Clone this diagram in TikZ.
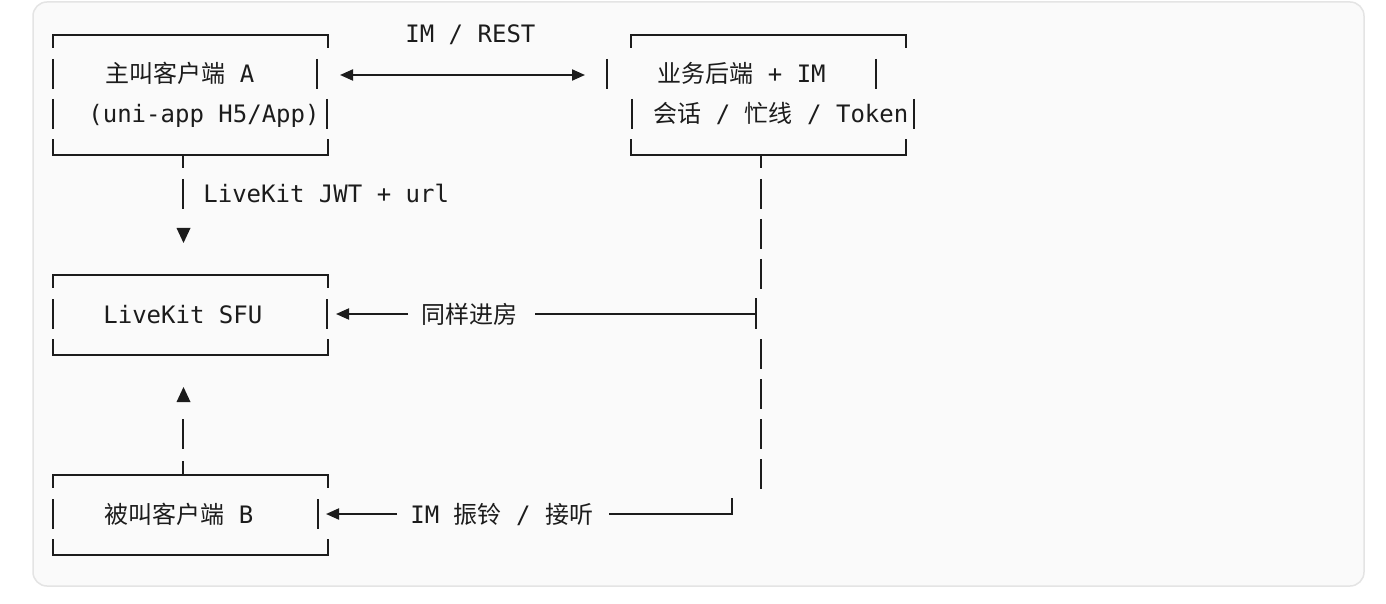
\documentclass[tikz,border=0pt]{standalone}
\usepackage{fontspec}
\setmonofont{DejaVu Sans Mono}
\newfontfamily\cjk{Noto Sans CJK SC}
\usetikzlibrary{arrows.meta}
\definecolor{ink}{HTML}{1C1C1C}
\definecolor{cardfill}{HTML}{FAFAFA}
\definecolor{cardline}{HTML}{E4E4E4}
\tikzset{
  ln/.style={draw=ink, line width=1pt},
  tip/.style={ln, -{Triangle[length=6.5pt,width=5.5pt]}},
  dtip/.style={ln, {Triangle[length=6.5pt,width=5.5pt]}-{Triangle[length=6.5pt,width=5.5pt]}},
  dashv/.style={ln, dash pattern=on 15pt off 5pt},
  txt/.style={anchor=base west, inner sep=0pt, text=ink, font=\ttfamily\fontsize{12pt}{14pt}\selectfont},
  boxn/.style={draw=none, inner sep=0pt, minimum width=137.5pt},
}
\newcommand\myvseg[2]{\draw[ln] (#1,#2-15) -- (#1,#2+15);}
\newcommand\myframe[1]{%
  \draw[ln] ([yshift=-6.5pt]#1.north west) -- (#1.north west) -- (#1.north east) -- ([yshift=-6.5pt]#1.north east);
  \draw[ln] ([yshift=8pt]#1.south west) -- (#1.south west) -- (#1.south east) -- ([yshift=8pt]#1.south east);}
\begin{document}
\begin{tikzpicture}[x=0.5pt,y=-0.5pt]
\useasboundingbox (0,0) rectangle (1386,604);
\fill[white] (0,0) rectangle (1386,604);
\draw[fill=cardfill, draw=cardline, line width=0.75pt, rounded corners=7pt] (33,2) rectangle (1364,586);

% boxes
\node[boxn, minimum height=60pt] (A) at (190.5,95) {};
\node[boxn, minimum height=60pt] (K) at (768.5,95) {};
\node[boxn, minimum height=40pt] (S) at (190.5,315) {};
\node[boxn, minimum height=40pt] (B) at (190.5,515) {};
\myframe{A}\myframe{K}\myframe{S}\myframe{B}
\myvseg{53}{74}\myvseg{317}{74}\myvseg{53}{114}\myvseg{327}{114}
\myvseg{607}{74}\myvseg{876}{74}\myvseg{632}{114}\myvseg{914}{114}
\myvseg{53}{314}\myvseg{327}{314}
\myvseg{53}{514}\myvseg{318}{514}

% texts
\node[txt] (ta1) at (105,83) {{\cjk 主叫客户端} A};
\node[txt] (ta2) at (88,123) {(uni-app H5/App)};
\node[txt] (tk1) at (657,83) {{\cjk 业务后端} + IM};
\node[txt] (tk2) at (653,123) {{\cjk 会话} / {\cjk 忙线} / Token};
\node[txt] (ts) at (103,323) {LiveKit SFU};
\node[txt] (tb) at (104,523) {{\cjk 被叫客户端} B};
\node[txt] (tim) at (405,43) {IM / REST};
\node[txt] (tjwt) at (203,203) {LiveKit JWT + url};
\node[txt] (tsame) at (421,323) {\cjk 同样进房};
\node[txt] (tring) at (410,523) {IM {\cjk 振铃} / {\cjk 接听}};

% IM / REST double arrow
\coordinate (imL) at (340,75);
\coordinate (imR) at (585,75);
\draw[dtip] (imL) -- (imR);

% A -> SFU
\draw[ln] ([xshift=-3.75pt]A.south) -- ++(0,13);
\coordinate (j1) at (183,179);
\coordinate (j2) at (183,209);
\draw[ln] (j1) -- (j2);
\fill[ink] (176.5,228) -- (190.5,228) -- (183.5,243) -- cycle;

% B -> SFU
\draw[ln] ([xshift=-3.75pt]B.north) -- ++(0,-14);
\coordinate (u1) at (183,419);
\coordinate (u2) at (183,449);
\draw[ln] (u1) -- (u2);
\fill[ink] (176.5,402) -- (190.5,402) -- (183.5,387) -- cycle;

% backend vertical
\draw[ln] ([xshift=-3.75pt]K.south) -- ++(0,13);
\coordinate (v1) at (761,179);
\coordinate (v2) at (761,289);
\coordinate (v3) at (761,339);
\coordinate (v4) at (761,489);
\draw[dashv] (v1) -- (v2);
\draw[dashv] (v3) -- (v4);

% same room
\coordinate (sfrom) at (408,314);
\coordinate (stip) at (336,314);
\draw[tip] (sfrom) -- (stip);
\coordinate (sl) at (535,314);
\coordinate (sr) at (756,314);
\draw[ln] (sl) -- (sr);
\draw[ln] (756,298) -- (756,329);

% ring
\coordinate (rfrom) at (397,514);
\coordinate (rtip) at (326,514);
\draw[tip] (rfrom) -- (rtip);
\coordinate (rl) at (609,514);
\coordinate (rc) at (732,514);
\draw[ln] (rl) -- (rc) -- (732,498);
\end{tikzpicture}
\end{document}
